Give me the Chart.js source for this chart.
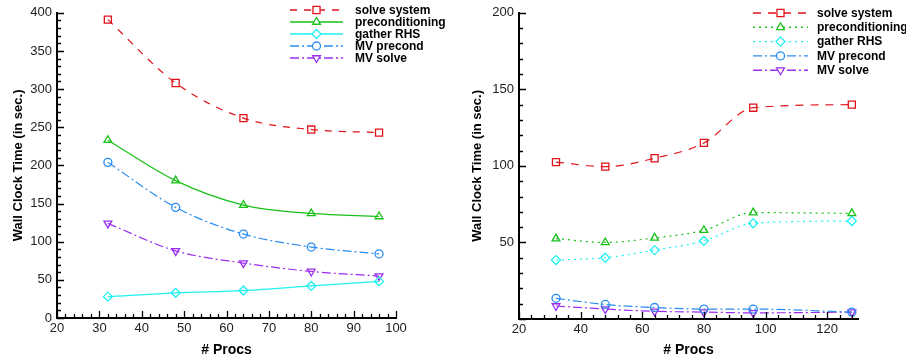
<!DOCTYPE html>
<html>
<head>
<meta charset="utf-8">
<script src="https://cdn.jsdelivr.net/npm/chart.js"></script>
<style>
  html, body { margin: 0; padding: 0; background: #fff; }
  #wrap { position: relative; width: 906px; height: 361px; overflow: hidden; }
  .pane { position: absolute; top: 0; width: 453px; height: 361px; }
  #p1 { left: 0; }
  #p2 { left: 453px; }
</style>
</head>
<body>
<div id="wrap">
  <div class="pane" id="p1"><canvas id="c1" width="453" height="361"></canvas></div>
  <div class="pane" id="p2"><canvas id="c2" width="453" height="361"></canvas></div>
</div>
<script>
// ---------- Data ----------
const seriesNames = ['solve system', 'preconditioning', 'gather RHS', 'MV precond', 'MV solve'];

const procsLeft = [32, 48, 64, 80, 96];
const leftSolveSystem    = [391, 308, 262, 247, 243];
const leftPreconditioning = [233, 180, 148, 137, 133];
const leftGatherRHS      = [28, 33, 36, 42, 48];
const leftMVPrecond      = [204, 145, 110, 93, 84];
const leftMVSolve        = [124, 88, 72, 61, 55];

const procsRight = [32, 48, 64, 80, 96, 128];
const rightSolveSystem    = [102.5, 99.5, 105, 115, 138, 140];
const rightPreconditioning = [52.5, 50, 53, 58, 69.5, 69];
const rightGatherRHS      = [38.5, 40, 45, 51, 62.5, 64];
const rightMVPrecond      = [13.5, 9.5, 7.5, 6.5, 6.5, 4.5];
const rightMVSolve        = [8.5, 6.5, 5, 4.5, 4, 4.5];

const leftXTicks = [20, 30, 40, 50, 60, 70, 80, 90, 100];
const leftYTicks = [0, 50, 100, 150, 200, 250, 300, 350, 400];
const rightXTicks = [20, 40, 60, 80, 100, 120];
const rightYTicks = [50, 100, 150, 200];

// ---------- Styles ----------
const RED = '#e0121a', GREEN = '#18c018', CYAN = '#20f0f0', BLUE = '#2a8cf0', PURPLE = '#9a2ef0';
const FONT = '"Liberation Sans", Arial, Helvetica, sans-serif';

function pts(xs, ys) { return xs.map((x, i) => ({ x: x, y: ys[i] })); }

function ds(label, xs, ys, color, dash, style, rot, radius) {
  return {
    label: label,
    data: pts(xs, ys),
    borderColor: color,
    borderWidth: 1.2,
    borderDash: dash,
    pointStyle: style,
    pointRotation: rot,
    pointRadius: radius,
    pointBorderWidth: 1.3,
    pointBorderColor: color,
    pointBackgroundColor: 'rgba(0,0,0,0)',
    pointHoverRadius: radius,
    cubicInterpolationMode: 'monotone',
    fill: false
  };
}

// ---------- Plugins ----------
function drawMarker(ctx, style, rot, r, x, y) {
  ctx.beginPath();
  if (style === 'rect') {
    const s = r / Math.SQRT2;
    ctx.rect(x - s, y - s, 2 * s, 2 * s);
  } else if (style === 'triangle') {
    const a = rot ? -1 : 1;
    const h = r * 0.5;
    ctx.moveTo(x, y - a * r);
    ctx.lineTo(x + r * 0.866, y + a * h);
    ctx.lineTo(x - r * 0.866, y + a * h);
    ctx.closePath();
  } else if (style === 'rectRot') {
    ctx.moveTo(x, y - r); ctx.lineTo(x + r, y); ctx.lineTo(x, y + r); ctx.lineTo(x - r, y); ctx.closePath();
  } else {
    ctx.arc(x, y, r, 0, Math.PI * 2);
  }
  ctx.fill();
  ctx.stroke();
}

const lineLegend = {
  id: 'lineLegend',
  afterDatasetsDraw(chart, args, o) {
    const ctx = chart.ctx;
    ctx.save();
    chart.data.datasets.forEach((d, i) => {
      const y = o.top + i * o.step;
      ctx.strokeStyle = d.borderColor;
      ctx.lineWidth = 1.4;
      ctx.setLineDash(d.borderDash || []);
      ctx.beginPath(); ctx.moveTo(o.x0, y); ctx.lineTo(o.x1, y); ctx.stroke();
      ctx.setLineDash([]);
      ctx.fillStyle = '#fff';
      ctx.lineWidth = 1.3;
      drawMarker(ctx, d.pointStyle, d.pointRotation, d.pointRadius, (o.x0 + o.x1) / 2, y);
      ctx.fillStyle = '#000';
      ctx.font = 'bold 12px ' + FONT;
      ctx.textBaseline = 'middle';
      ctx.textAlign = 'left';
      ctx.fillText(d.label, o.tx, y + 0.5);
    });
    ctx.restore();
  }
};

const inwardTicks = {
  id: 'inwardTicks',
  afterDraw(chart, args, o) {
    const ctx = chart.ctx, xs = chart.scales.x, ys = chart.scales.y, ca = chart.chartArea;
    ctx.save();
    ctx.strokeStyle = '#000';
    ctx.lineWidth = 1.3;
    ctx.beginPath();
    const nx = Math.round((xs.max - xs.min) / o.xMinor);
    for (let k = 0; k <= nx; k++) {
      const v = xs.min + k * o.xMinor;
      if (v > xs.max + 1e-9) break;
      const major = Math.abs(Math.round(v / o.xMajor) * o.xMajor - v) < 1e-6;
      const px = Math.round(xs.getPixelForValue(v)) + 0.5;
      ctx.moveTo(px, ca.bottom);
      ctx.lineTo(px, ca.bottom - (major ? 7 : 4));
    }
    const ny = Math.round((ys.max - ys.min) / o.yMinor);
    for (let k = 0; k <= ny; k++) {
      const v = ys.min + k * o.yMinor;
      const major = Math.abs(Math.round(v / o.yMajor) * o.yMajor - v) < 1e-6;
      const py = Math.round(ys.getPixelForValue(v)) + 0.5;
      ctx.moveTo(ca.left, py);
      ctx.lineTo(ca.left + (major ? 7 : 4), py);
    }
    ctx.stroke();
    ctx.restore();
  }
};

// ---------- Chart builder ----------
function makeChart(id, datasets, cfg) {
  return new Chart(document.getElementById(id), {
    type: 'line',
    data: { datasets: datasets },
    plugins: [lineLegend, inwardTicks],
    options: {
      responsive: false,
      animation: false,
      devicePixelRatio: 1,
      layout: { padding: { left: 0, top: 10, right: cfg.padRight, bottom: 0 } },
      plugins: {
        legend: { display: false },
        tooltip: { enabled: false },
        lineLegend: cfg.legend,
        inwardTicks: cfg.minor
      },
      scales: {
        x: {
          type: 'linear',
          min: cfg.xMin, max: cfg.xMax,
          afterBuildTicks: (s) => { s.ticks = cfg.xTicks.map(v => ({ value: v })); },
          afterFit: (s) => { s.height = cfg.xHeight; },
          grid: { display: false, drawTicks: false },
          border: { display: true, color: '#000', width: 2 },
          ticks: { color: '#222', font: { family: FONT, size: 13 }, padding: 3, maxRotation: 0, autoSkip: false },
          title: { display: true, text: '# Procs', color: '#000', font: { family: FONT, size: 14, weight: 'bold' }, padding: { top: 0, bottom: 2 } }
        },
        y: {
          type: 'linear',
          min: cfg.yMin, max: cfg.yMax,
          afterBuildTicks: (s) => { s.ticks = cfg.yTicks.map(v => ({ value: v })); },
          afterFit: (s) => { s.width = cfg.yWidth; },
          grid: { display: false, drawTicks: false },
          border: { display: true, color: '#000', width: 2 },
          ticks: { color: '#222', font: { family: FONT, size: 13 }, padding: 5, autoSkip: false },
          title: { display: true, text: 'Wall Clock Time (in sec.)', color: '#000', font: { family: FONT, size: 13, weight: 'bold' }, padding: { top: cfg.yTitlePad, bottom: 0 } }
        }
      }
    }
  });
}

const DASH = [7, 7], DASHDOT = [9, 3, 2, 3], DOT = [2, 4];

makeChart('c1', [
  ds(seriesNames[0], procsLeft, leftSolveSystem, RED, DASH, 'rect', 0, 5),
  ds(seriesNames[1], procsLeft, leftPreconditioning, GREEN, [], 'triangle', 0, 4.5),
  ds(seriesNames[2], procsLeft, leftGatherRHS, CYAN, [], 'rectRot', 0, 4.5),
  ds(seriesNames[3], procsLeft, leftMVPrecond, BLUE, DASHDOT, 'circle', 0, 4),
  ds(seriesNames[4], procsLeft, leftMVSolve, PURPLE, DASHDOT, 'triangle', 180, 4.5)
], {
  padRight: 57, xHeight: 43, yWidth: 57, yTitlePad: 11,
  xMin: 20, xMax: 100, yMin: 0, yMax: 400,
  xTicks: leftXTicks, yTicks: leftYTicks,
  minor: { xMinor: 2, xMajor: 10, yMinor: 10, yMajor: 50 },
  legend: { x0: 290, x1: 343, tx: 355, top: 10, step: 12 }
});

makeChart('c2', [
  ds(seriesNames[0], procsRight, rightSolveSystem, RED, [8, 7], 'rect', 0, 5),
  ds(seriesNames[1], procsRight, rightPreconditioning, GREEN, DOT, 'triangle', 0, 4.5),
  ds(seriesNames[2], procsRight, rightGatherRHS, CYAN, DOT, 'rectRot', 0, 4.5),
  ds(seriesNames[3], procsRight, rightMVPrecond, BLUE, DASHDOT, 'circle', 0, 4),
  ds(seriesNames[4], procsRight, rightMVSolve, PURPLE, DASHDOT, 'triangle', 180, 4.5)
], {
  padRight: 48, xHeight: 42, yWidth: 66, yTitlePad: 17,
  xMin: 20, xMax: 130, yMin: 0, yMax: 200,
  xTicks: rightXTicks, yTicks: rightYTicks,
  minor: { xMinor: 4, xMajor: 20, yMinor: 10, yMajor: 50 },
  legend: { x0: 300, x1: 355, tx: 364, top: 13, step: 14.3 }
});
</script>
</body>
</html>
